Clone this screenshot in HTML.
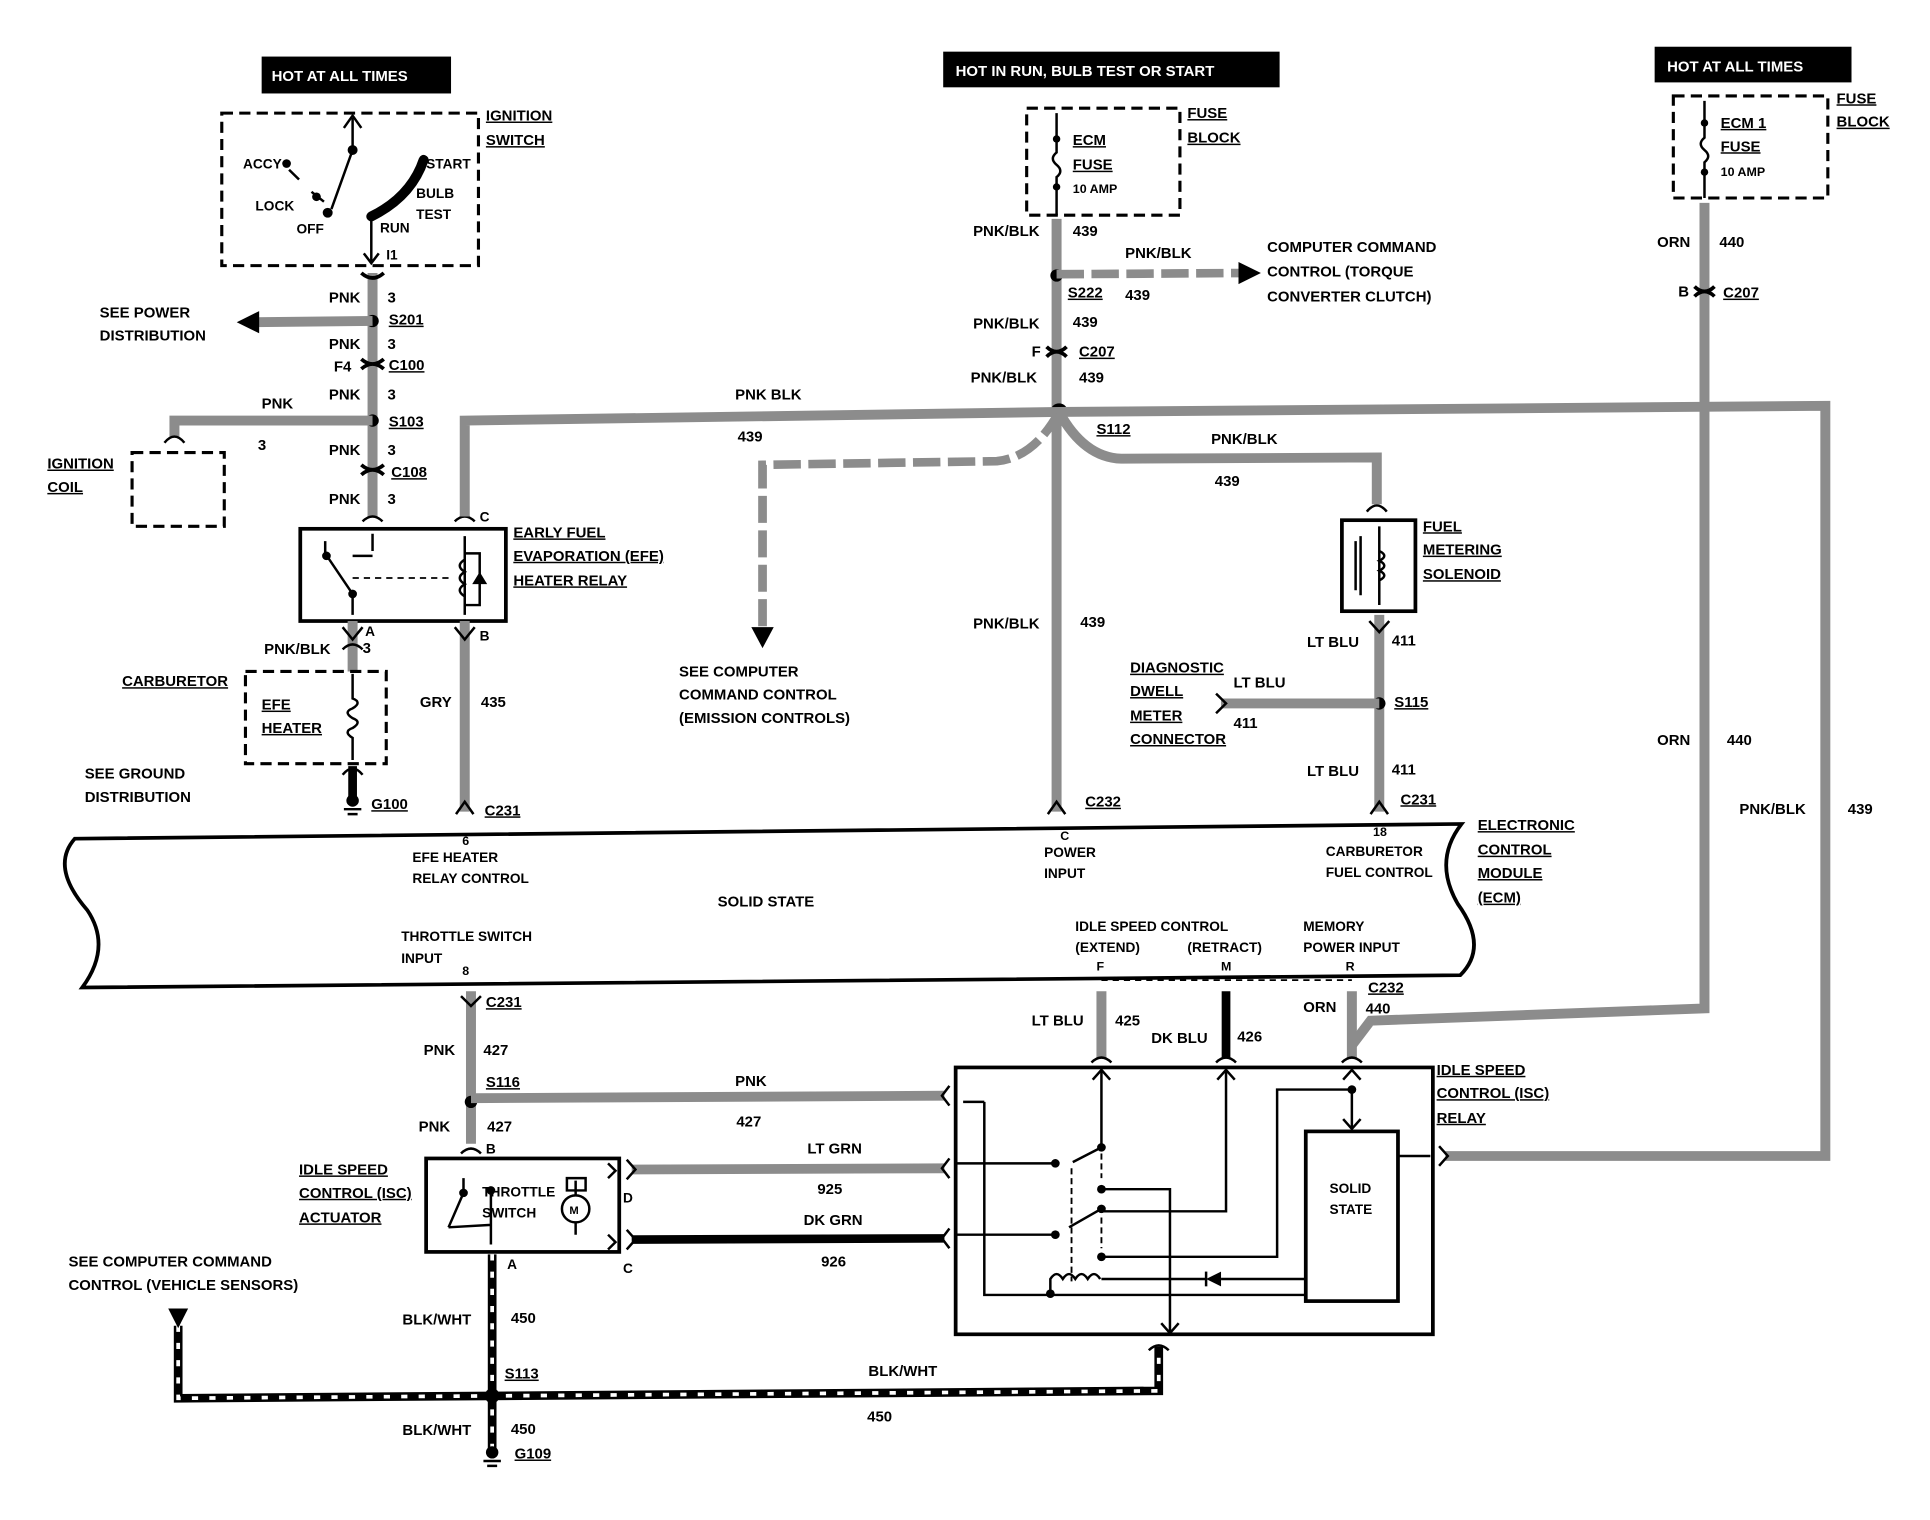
<!DOCTYPE html>
<html><head><meta charset="utf-8"><style>
html,body{margin:0;padding:0;background:#fff;}
svg{display:block;}
text{font-family:"Liberation Sans",sans-serif;font-weight:bold;font-size:12px;fill:#000;}
.u{text-decoration:underline;}
.g{fill:none;stroke:#8c8c8c;stroke-width:8;}
.k{fill:none;stroke:#000;stroke-width:7;}
.t{fill:none;stroke:#000;stroke-width:2;}
.d{fill:none;stroke:#000;stroke-width:2.5;stroke-dasharray:9 5;}
.gd{fill:none;stroke:#8c8c8c;stroke-width:7;stroke-dasharray:22 6;}
</style></head><body>
<svg width="1930" height="1520" viewBox="0 0 1549 1236" preserveAspectRatio="none" xmlns="http://www.w3.org/2000/svg">
<!-- title boxes -->
<rect x="210" y="46" width="152" height="30" fill="#000"/><text x="218" y="66" style="fill:#fff">HOT AT ALL TIMES</text>
<rect x="757" y="42" width="270" height="29" fill="#000"/><text x="767" y="62" style="fill:#fff">HOT IN RUN,  BULB TEST OR START</text>
<rect x="1328" y="38" width="158" height="29" fill="#000"/><text x="1338" y="58" style="fill:#fff">HOT AT ALL TIMES</text>

<!-- ignition switch -->
<rect x="178" y="92" width="206" height="124" class="d"/>
<text x="390" y="98" class="u">IGNITION</text><text x="390" y="118" class="u">SWITCH</text>
<path d="M283 96 L283 122 L266 170" class="t"/><path d="M276 104 L283 94 L290 104" class="t"/>
<circle cx="283" cy="122" r="4"/><circle cx="263" cy="173" r="4"/>
<circle cx="230" cy="133" r="3.5"/><circle cx="254" cy="160" r="3.5"/>
<path d="M232 138 L240 146 M250 156 L260 164" class="t"/>
<path d="M298 176 Q330 160 340 130" style="fill:none;stroke:#000;stroke-width:8;stroke-linecap:round"/>
<path d="M298 176 L298 214" class="t"/><path d="M292 206 L298 214 L304 206" class="t"/>
<text x="195" y="137" style="font-size:11px">ACCY</text><text x="205" y="171" style="font-size:11px">LOCK</text>
<text x="238" y="190" style="font-size:11px">OFF</text><text x="305" y="189" style="font-size:11px">RUN</text>
<text x="342" y="137" style="font-size:11px">START</text><text x="334" y="161" style="font-size:11px">BULB</text><text x="334" y="178" style="font-size:11px">TEST</text>
<text x="310" y="211" style="font-size:11px">I1</text>

<!-- left column wire -->
<path d="M299 222 L299 420" class="g"/>
<path d="M290 222 Q299 230 308 222 M290 292 Q299 300 308 292 M290 300 Q299 292 308 300 M290 378 Q299 386 308 378 M290 386 Q299 378 308 386" style="fill:none;stroke:#000;stroke-width:3"/>
<text x="264" y="246">PNK</text><text x="311" y="246">3</text>
<circle cx="299" cy="261" r="5"/><text x="312" y="264" class="u">S201</text>
<path d="M299 261 L205 262" class="g"/><path d="M190 262 L208 253 L208 271 Z"/>
<text x="80" y="258">SEE POWER</text><text x="80" y="277">DISTRIBUTION</text>
<text x="264" y="284">PNK</text><text x="311" y="284">3</text>
<text x="268" y="302">F4</text><text x="312" y="301" class="u">C100</text>
<text x="264" y="325">PNK</text><text x="311" y="325">3</text>
<circle cx="299" cy="342" r="5"/><text x="312" y="347" class="u">S103</text>
<path d="M299 342 L140 342 L140 356" class="g"/><path d="M132 360 Q140 350 148 360" class="t"/>
<text x="210" y="332">PNK</text><text x="207" y="366">3</text>
<rect x="106" y="368" width="74" height="60" class="d"/>
<text x="38" y="381" class="u">IGNITION</text><text x="38" y="400" class="u">COIL</text>
<text x="264" y="370">PNK</text><text x="311" y="370">3</text>
<text x="314" y="388" class="u">C108</text>
<text x="264" y="410">PNK</text><text x="311" y="410">3</text>

<!-- EFE relay -->
<rect x="241" y="430" width="165" height="75" style="fill:none;stroke:#000;stroke-width:3"/>
<path d="M291 424 Q299 416 307 424" class="t"/><path d="M365 424 Q373 416 381 424" class="t"/>
<text x="385" y="424" style="font-size:11px">C</text>
<path d="M261 440 L261 450 L283 483 L283 500 M299 434 L299 448 M283 452 L299 452" class="t"/>
<circle cx="262" cy="452" r="3.5"/><circle cx="283" cy="483" r="3.5"/>
<path d="M283 470 L360 470" style="fill:none;stroke:#000;stroke-width:1.5;stroke-dasharray:5 4"/>
<path d="M373 436 L373 500 M373 450 L385 450 L385 492 L373 492" class="t"/>
<path d="M373 455 q-8 5 0 10 q-8 5 0 10 q-8 5 0 10" class="t"/>
<path d="M379 475 L391 475 L385 465 Z"/>
<text x="412" y="437" class="u">EARLY FUEL</text><text x="412" y="456" class="u">EVAPORATION (EFE)</text><text x="412" y="476" class="u">HEATER RELAY</text>
<path d="M283 505 L283 546" class="g"/>
<path d="M275 510 L283 520 L291 510 M275 528 Q283 520 291 528" class="t"/>
<text x="293" y="517" style="font-size:11px">A</text><text x="212" y="532">PNK/BLK</text><text x="291" y="531">3</text>
<text x="385" y="521" style="font-size:11px">B</text>
<path d="M373 505 L373 660" class="g"/>
<path d="M365 510 L373 520 L381 510" class="t"/><path d="M366 662 L373 652 L380 662" class="t"/>
<text x="337" y="575">GRY</text><text x="386" y="575">435</text><text x="389" y="663" class="u">C231</text>
<rect x="197" y="546" width="113" height="75" class="d"/>
<text x="98" y="558" class="u">CARBURETOR</text>
<text x="210" y="577" class="u">EFE</text><text x="210" y="596" class="u">HEATER</text>
<path d="M283 548 L283 568 q8 3 0 8 q-8 3 0 8 q8 3 0 8 q-8 3 0 8 L283 618" class="t"/>
<path d="M283 623 L283 650" class="k"/><path d="M275 630 Q283 620 291 630" class="t"/>
<circle cx="283" cy="651" r="5"/><path d="M276 658 L290 658 M279 662 L287 662" class="t"/>
<text x="298" y="658" class="u">G100</text>
<text x="68" y="633">SEE GROUND</text><text x="68" y="652">DISTRIBUTION</text>

<!-- center fuse -->
<rect x="824" y="88" width="123" height="87" class="d"/>
<text x="953" y="96" class="u">FUSE</text><text x="953" y="116" class="u">BLOCK</text>
<path d="M848 92 L848 124 q-6 5 0 10 q6 5 0 10 L848 175" class="t"/><circle cx="848" cy="113" r="3"/><circle cx="848" cy="152" r="3"/>
<text x="861" y="118" class="u">ECM</text><text x="861" y="138" class="u">FUSE</text><text x="861" y="157" style="font-size:10px">10 AMP</text>
<path d="M848 178 L848 660" class="g"/>
<text x="781" y="192">PNK/BLK</text><text x="861" y="192">439</text>
<circle cx="848" cy="224" r="5"/>
<path d="M848 223 L995 222" class="gd"/><path d="M1012 222 L994 213 L994 231 Z"/>
<text x="903" y="210">PNK/BLK</text><text x="903" y="244">439</text><text x="857" y="242" class="u">S222</text>
<text x="1017" y="205">COMPUTER COMMAND</text><text x="1017" y="225">CONTROL (TORQUE</text><text x="1017" y="245">CONVERTER CLUTCH)</text>
<text x="781" y="267">PNK/BLK</text><text x="861" y="266">439</text>
<path d="M840 282 Q848 290 856 282 M840 290 Q848 282 856 290" style="fill:none;stroke:#000;stroke-width:3"/>
<text x="828" y="290">F</text><text x="866" y="290" class="u">C207</text>
<text x="779" y="311">PNK/BLK</text><text x="866" y="311">439</text>
<circle cx="850" cy="335" r="7"/><text x="880" y="353" class="u">S112</text>
<path d="M373 420 L373 342 L850 335 L1465 330 L1465 940 L1160 940" class="g"/>
<text x="590" y="325">PNK BLK</text><text x="592" y="359">439</text>
<path d="M850 335 Q830 372 800 375 L612 378 L612 510" class="gd"/><path d="M603 510 L612 527 L621 510 Z"/>
<text x="545" y="550">SEE COMPUTER</text><text x="545" y="569">COMMAND CONTROL</text><text x="545" y="588">(EMISSION CONTROLS)</text>
<path d="M850 335 Q870 372 900 373 L1105 372 L1105 410" class="g"/>
<path d="M1097 416 Q1105 406 1113 416" class="t"/>
<text x="972" y="361">PNK/BLK</text><text x="975" y="395">439</text>
<rect x="1077" y="423" width="59" height="74" style="fill:none;stroke:#000;stroke-width:3"/>
<path d="M1107 428 L1107 492 M1092 436 L1092 484 M1088 440 L1088 480" class="t"/>
<path d="M1107 448 q8 4 0 8 q8 4 0 8 q8 4 0 8" class="t"/>
<text x="1142" y="432" class="u">FUEL</text><text x="1142" y="451" class="u">METERING</text><text x="1142" y="471" class="u">SOLENOID</text>
<path d="M1107 500 L1107 660" class="g"/>
<path d="M1099 505 L1107 514 L1115 505" class="t"/><path d="M1100 662 L1107 652 L1114 662" class="t"/>
<text x="1049" y="526">LT BLU</text><text x="1117" y="525">411</text>
<circle cx="1107" cy="572" r="5"/><text x="1119" y="575" class="u">S115</text>
<path d="M1107 572 L980 572" class="g"/><path d="M976 564 L984 572 L976 580" class="t"/>
<text x="907" y="547" class="u">DIAGNOSTIC</text><text x="907" y="566" class="u">DWELL</text><text x="907" y="586" class="u">METER</text><text x="907" y="605" class="u">CONNECTOR</text>
<text x="990" y="559">LT BLU</text><text x="990" y="592">411</text>
<text x="1049" y="631">LT BLU</text><text x="1117" y="630">411</text><text x="1124" y="654" class="u">C231</text>
<text x="781" y="511">PNK/BLK</text><text x="867" y="510">439</text>
<path d="M841 662 L848 652 L855 662" class="t"/><text x="871" y="656" class="u">C232</text>

<!-- right fuse -->
<rect x="1343" y="78" width="124" height="83" class="d"/>
<text x="1474" y="84" class="u">FUSE</text><text x="1474" y="103" class="u">BLOCK</text>
<path d="M1368 82 L1368 112 q-6 5 0 10 q6 5 0 10 L1368 161" class="t"/><circle cx="1368" cy="100" r="3"/><circle cx="1368" cy="140" r="3"/>
<text x="1381" y="104" class="u">ECM 1</text><text x="1381" y="123" class="u">FUSE</text><text x="1381" y="143" style="font-size:10px">10 AMP</text>
<path d="M1368 165 L1368 820 L1100 830 L1085 850" class="g"/>
<text x="1330" y="201">ORN</text><text x="1380" y="201">440</text>
<path d="M1360 233 Q1368 241 1376 233 M1360 241 Q1368 233 1376 241" style="fill:none;stroke:#000;stroke-width:3"/>
<text x="1347" y="241">B</text><text x="1383" y="242" class="u">C207</text>
<text x="1330" y="606">ORN</text><text x="1386" y="606">440</text>
<text x="1396" y="662">PNK/BLK</text><text x="1483" y="662">439</text>

<!-- ECM -->
<path d="M60 682 L1173 670 Q1150 700 1170 735 Q1195 770 1172 793 L66 803 Q90 770 70 740 Q40 705 60 682 Z" style="fill:#fff;stroke:#000;stroke-width:3"/>
<text x="371" y="687" style="font-size:10px">6</text><text x="331" y="701" style="font-size:11px">EFE HEATER</text><text x="331" y="718" style="font-size:11px">RELAY CONTROL</text>
<text x="851" y="683" style="font-size:10px">C</text><text x="838" y="697" style="font-size:11px">POWER</text><text x="838" y="714" style="font-size:11px">INPUT</text>
<text x="1102" y="680" style="font-size:10px">18</text><text x="1064" y="696" style="font-size:11px">CARBURETOR</text><text x="1064" y="713" style="font-size:11px">FUEL CONTROL</text>
<text x="576" y="737">SOLID STATE</text>
<text x="322" y="765" style="font-size:11px">THROTTLE SWITCH</text><text x="322" y="783" style="font-size:11px">INPUT</text><text x="371" y="793" style="font-size:10px">8</text>
<text x="863" y="757" style="font-size:11px">IDLE SPEED CONTROL</text><text x="863" y="774" style="font-size:11px">(EXTEND)</text><text x="953" y="774" style="font-size:11px">(RETRACT)</text>
<text x="880" y="789" style="font-size:10px">F</text><text x="980" y="789" style="font-size:10px">M</text><text x="1080" y="789" style="font-size:10px">R</text>
<text x="1046" y="757" style="font-size:11px">MEMORY</text><text x="1046" y="774" style="font-size:11px">POWER INPUT</text>
<text x="1186" y="675" class="u">ELECTRONIC</text><text x="1186" y="695" class="u">CONTROL</text><text x="1186" y="714" class="u">MODULE</text><text x="1186" y="734" class="u">(ECM)</text>

<!-- below ECM -->
<path d="M378 806 L378 930" class="g"/>
<path d="M370 810 L378 818 L386 810" class="t"/>
<text x="390" y="819" class="u">C231</text>
<text x="340" y="858">PNK</text><text x="388" y="858">427</text>
<circle cx="378" cy="896" r="5"/><text x="390" y="884" class="u">S116</text>
<path d="M378 893 L758 891" class="g"/>
<text x="590" y="883">PNK</text><text x="591" y="916">427</text>
<text x="336" y="920">PNK</text><text x="391" y="920">427</text>
<path d="M370 938 Q378 930 386 938" class="t"/><text x="390" y="938" style="font-size:11px">B</text>
<rect x="342" y="942" width="155" height="76" style="fill:none;stroke:#000;stroke-width:3"/>
<path d="M372 958 L372 970 L360 998 M394 968 L394 1012 M360 998 L394 996" class="t"/>
<circle cx="372" cy="970" r="3.5"/><circle cx="394" cy="968" r="3.5"/>
<text x="387" y="973" style="font-size:11px">THROTTLE</text><text x="387" y="990" style="font-size:11px">SWITCH</text>
<circle cx="462" cy="983" r="11" class="t"/><text x="457" y="987" style="font-size:9px">M</text>
<path d="M462 960 L462 972 M462 994 L462 1004 M455 958 L470 958 L470 968 L455 968 Z" class="t"/>
<path d="M488 946 L494 952 L488 958 M488 1004 L494 1010 L488 1016" class="t"/>
<text x="500" y="978" style="font-size:11px">D</text><text x="500" y="1035" style="font-size:11px">C</text><text x="407" y="1032" style="font-size:11px">A</text>
<text x="240" y="955" class="u">IDLE SPEED</text><text x="240" y="974" class="u">CONTROL (ISC)</text><text x="240" y="994" class="u">ACTUATOR</text>
<path d="M507 951 L758 950" class="g"/><path d="M503 943 L510 951 L503 959" class="t"/>
<text x="648" y="938">LT GRN</text><text x="656" y="971">925</text>
<path d="M507 1008 L758 1007" class="k"/><path d="M503 1000 L510 1008 L503 1016" class="t"/>
<text x="645" y="996">DK GRN</text><text x="659" y="1030">926</text>

<!-- BLK/WHT -->
<path d="M395 1020 L395 1180" class="k"/><path d="M395 1020 L395 1180" style="stroke:#fff;stroke-width:3;stroke-dasharray:5 9;fill:none"/>
<path d="M143 1078 L143 1137 L930 1131 L930 1095" class="k"/><path d="M143 1078 L143 1137 L930 1131 L930 1095" style="stroke:#fff;stroke-width:3;stroke-dasharray:5 9;fill:none"/>
<path d="M135 1064 L151 1064 L143 1080 Z"/>
<path d="M922 1098 Q930 1090 938 1098" class="t"/>
<text x="55" y="1030">SEE COMPUTER COMMAND</text><text x="55" y="1049">CONTROL (VEHICLE SENSORS)</text>
<text x="323" y="1077">BLK/WHT</text><text x="410" y="1076">450</text>
<circle cx="395" cy="1135" r="6"/><text x="405" y="1121" class="u">S113</text>
<text x="697" y="1119">BLK/WHT</text><text x="696" y="1156">450</text>
<text x="323" y="1167">BLK/WHT</text><text x="410" y="1166">450</text>
<circle cx="395" cy="1181" r="5"/><path d="M388 1188 L402 1188 M391 1192 L399 1192" class="t"/>
<text x="413" y="1186" class="u">G109</text>

<!-- ISC relay -->
<path d="M884 806 L884 860" class="g"/><path d="M984 806 L984 860" class="k"/><path d="M1085 806 L1085 860" class="g"/>
<path d="M884 797 L1085 797" style="fill:none;stroke:#000;stroke-width:1.5;stroke-dasharray:5 4"/>
<text x="828" y="834">LT BLU</text><text x="895" y="834">425</text>
<text x="924" y="848">DK BLU</text><text x="993" y="847">426</text>
<text x="1046" y="823">ORN</text><text x="1096" y="824">440</text><text x="1098" y="807" class="u">C232</text>
<text x="1153" y="874" class="u">IDLE SPEED</text><text x="1153" y="893" class="u">CONTROL (ISC)</text><text x="1153" y="913" class="u">RELAY</text>
<rect x="767" y="868" width="383" height="217" style="fill:none;stroke:#000;stroke-width:3"/>
<path d="M762 883 L756 891 L762 899 M762 942 L756 950 L762 958 M762 999 L756 1007 L762 1015" class="t"/>
<path d="M876 864 Q884 856 892 864 M976 864 Q984 856 992 864 M1077 864 Q1085 856 1093 864" class="t"/>
<path d="M1155 932 L1162 940 L1155 948" class="t"/>
<!-- internals -->
<g class="t">
<path d="M884 870 L884 933 L861 945 M767 946 L847 946"/>
<path d="M877 878 L884 870 L891 878 M977 878 L984 870 L991 878 M1078 878 L1085 870 L1092 878 M1078 910 L1085 918 L1092 910"/>
<path d="M884 967 L939 967 L939 1085 M932 1076 L939 1084 L946 1076"/>
<path d="M886 985 L984 985 L984 870"/>
<path d="M884 983 L858 998 M767 1004 L847 1004"/>
<path d="M886 1022 L1025 1022 L1025 886 L1085 886 L1085 918"/>
<path d="M790 896 L790 1053 L1048 1053 M773 896 L790 896"/>
<path d="M1048 1040 L980 1040 M968 1040 L884 1040"/>
<path d="M1122 940 L1148 940"/>
</g>
<path d="M860 950 L860 1042 M884 938 L884 958 M884 990 L884 1015" style="fill:none;stroke:#000;stroke-width:1.5;stroke-dasharray:5 3"/>
<circle cx="884" cy="933" r="3.5"/><circle cx="847" cy="946" r="3.5"/><circle cx="884" cy="967" r="3.5"/>
<circle cx="884" cy="983" r="3.5"/><circle cx="847" cy="1004" r="3.5"/><circle cx="884" cy="1022" r="3.5"/>
<circle cx="1085" cy="886" r="3.5"/><circle cx="843" cy="1052" r="3.5"/>
<path d="M843 1052 L843 1040 q5 -8 10 0 q5 -8 10 0 q5 -8 10 0 q5 -8 10 0" class="t"/>
<path d="M980 1034 L980 1046 L968 1040 Z"/><path d="M968 1034 L968 1046" class="t"/>
<rect x="1048" y="920" width="74" height="138" style="fill:#fff;stroke:#000;stroke-width:3"/>
<text x="1067" y="970" style="font-size:11px">SOLID</text><text x="1067" y="987" style="font-size:11px">STATE</text>
</svg>
</body></html>
